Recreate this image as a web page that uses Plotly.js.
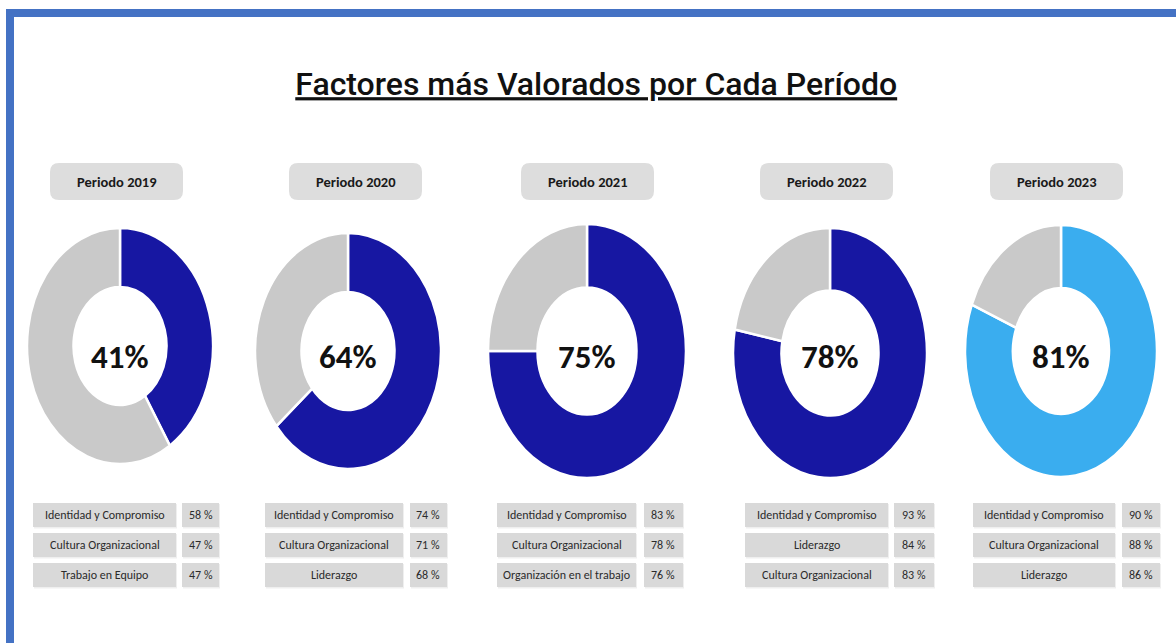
<!DOCTYPE html>
<html>
<head>
<meta charset="utf-8">
<script src="https://cdn.plot.ly/plotly-3.0.1.min.js"></script>
<style>
html,body{margin:0;padding:0;background:#fff;overflow:hidden;}
#chart{width:1176px;height:643px;}
</style>
</head>
<body>
<div id="chart"></div>
<script>
// ---- data ----
const periods = ['Periodo 2019', 'Periodo 2020', 'Periodo 2021', 'Periodo 2022', 'Periodo 2023'];
const scores = [41, 64, 75, 78, 81];
const factors2019 = ['Identidad y Compromiso', 'Cultura Organizacional', 'Trabajo en Equipo'];
const values2019 = [58, 47, 47];
const factors2020 = ['Identidad y Compromiso', 'Cultura Organizacional', 'Liderazgo'];
const values2020 = [74, 71, 68];
const factors2021 = ['Identidad y Compromiso', 'Cultura Organizacional', 'Organización en el trabajo'];
const values2021 = [83, 78, 76];
const factors2022 = ['Identidad y Compromiso', 'Liderazgo', 'Cultura Organizacional'];
const values2022 = [93, 84, 83];
const factors2023 = ['Identidad y Compromiso', 'Cultura Organizacional', 'Liderazgo'];
const values2023 = [90, 88, 86];
const factorNames = [factors2019, factors2020, factors2021, factors2022, factors2023];
const factorValues = [values2019, values2020, values2021, values2022, values2023];

// ---- layout (pixel positions) ----
const W = 1176, H = 643;
const donutCx = [120, 348, 587, 830, 1061];
const donutCy = [346, 351, 351, 353, 351];
const donutRx = [93, 93, 99, 97, 96];
const donutRy = [118, 118, 127, 125, 126];
const headerCx = [116.5, 355.5, 587.5, 826.5, 1056.5];
const labelBox = [[33,176],[265,403],[497,636],[745,888],[973,1115]];
const valueBox = [[182,219],[410,447],[644,683],[894,934],[1122,1160]];
const rowY = [515, 545, 575];
const colorsMain = ['#1717a2', '#1717a2', '#1717a2', '#1717a2', '#3aadef'];
const grey = '#c9c9c9';

const px = x => x / W;
const py = y => 1 - y / H;

const narrow = 'Carlito, "Roboto Condensed", Lato, sans-serif';

const data = [];
const shapes = [];
const annotations = [];

// blue frame
shapes.push({type:'rect', xref:'paper', yref:'paper', x0:px(6), x1:px(1176), y0:py(9), y1:py(17), fillcolor:'#4472c4', line:{width:0}, layer:'below'});
shapes.push({type:'rect', xref:'paper', yref:'paper', x0:px(6), x1:px(14), y0:py(9), y1:py(643), fillcolor:'#4472c4', line:{width:0}, layer:'below'});

function roundRect(x0, y0, x1, y1, r) {
  const rx = r / W, ry = r / H;
  const X0 = px(x0), X1 = px(x1), Y0 = py(y0), Y1 = py(y1);
  return `M${X0+rx},${Y0} L${X1-rx},${Y0} Q${X1},${Y0} ${X1},${Y0-ry} L${X1},${Y1+ry} Q${X1},${Y1} ${X1-rx},${Y1} L${X0+rx},${Y1} Q${X0},${Y1} ${X0},${Y1+ry} L${X0},${Y0-ry} Q${X0},${Y0} ${X0+rx},${Y0} Z`;
}

periods.forEach((p, i) => {
  const cx = donutCx[i], cy = donutCy[i], r = donutRx[i];
  data.push({
    type:'pie', hole:0.5, sort:false, direction:'clockwise', rotation:0,
    values:[scores[i], 100 - scores[i]],
    labels:['Valorado', 'Resto'],
    marker:{colors:[colorsMain[i], grey], line:{color:'#ffffff', width:2.5}},
    textinfo:'none', hoverinfo:'skip', showlegend:false,
    domain:{x:[px(cx - r), px(cx + r)], y:[py(cy + r), py(cy - r)]}
  });
  annotations.push({xref:'paper', yref:'paper', x:px(cx), y:py(357), xanchor:'center', yanchor:'middle',
    text:'<b>' + scores[i] + '%</b>', showarrow:false, font:{family:narrow, size:33, color:'#111111'}});

  const hx = headerCx[i];
  shapes.push({type:'path', xref:'paper', yref:'paper', path:roundRect(hx - 66.5, 163, hx + 66.5, 200, 9), fillcolor:'#dddddd', line:{width:0}});
  annotations.push({xref:'paper', yref:'paper', x:px(hx), y:py(182), xanchor:'center', yanchor:'middle',
    text:'<b>' + p + '</b>', showarrow:false, font:{family:narrow, size:14.5, color:'#1a1a1a'}});

  factorNames[i].forEach((name, j) => {
    const yc = rowY[j];
    const lb = labelBox[i], vb = valueBox[i];
    shapes.push({type:'rect', xref:'paper', yref:'paper', x0:px(lb[0]+1), x1:px(lb[1]+1), y0:py(yc-11), y1:py(yc+13.5), fillcolor:'#efefef', line:{width:0}});
    shapes.push({type:'rect', xref:'paper', yref:'paper', x0:px(vb[0]+1), x1:px(vb[1]+1), y0:py(yc-11), y1:py(yc+13.5), fillcolor:'#efefef', line:{width:0}});
    shapes.push({type:'rect', xref:'paper', yref:'paper', x0:px(lb[0]), x1:px(lb[1]), y0:py(yc-12), y1:py(yc+12), fillcolor:'#d9d9d9', line:{width:0}});
    shapes.push({type:'rect', xref:'paper', yref:'paper', x0:px(vb[0]), x1:px(vb[1]), y0:py(yc-12), y1:py(yc+12), fillcolor:'#d9d9d9', line:{width:0}});
    annotations.push({xref:'paper', yref:'paper', x:px((lb[0]+lb[1])/2), y:py(yc), xanchor:'center', yanchor:'middle',
      text:name, showarrow:false, font:{family:narrow, size:12, color:'#2b2b2b'}});
    annotations.push({xref:'paper', yref:'paper', x:px((vb[0]+vb[1])/2), y:py(yc), xanchor:'center', yanchor:'middle',
      text:factorValues[i][j] + ' %', showarrow:false, font:{family:narrow, size:12, color:'#2b2b2b'}});
  });
});

const layout = {
  width:W, height:H,
  margin:{l:0, r:0, t:0, b:0},
  paper_bgcolor:'#ffffff', plot_bgcolor:'#ffffff',
  showlegend:false,
  title:{text:'<u>Factores más Valorados por Cada Período</u>', x:0.507, xanchor:'center', y:py(84), yanchor:'middle',
    font:{family:'Roboto, "Noto Sans", sans-serif', size:32, weight:500, color:'#111111'}},
  shapes:shapes,
  annotations:annotations
};

Plotly.newPlot('chart', data, layout, {staticPlot:true, displayModeBar:false}).then(gd => {
  const traces = gd.querySelectorAll('.pielayer .trace');
  traces.forEach((g, i) => {
    const cx = donutCx[i], cy = donutCy[i], k = donutRy[i] / donutRx[i];
    g.setAttribute('transform', `translate(${cx},${cy}) scale(1,${k}) translate(${-cx},${-cy})`);
    g.querySelectorAll('path').forEach(p => p.style.vectorEffect = 'non-scaling-stroke');
  });
});
</script>
</body>
</html>
